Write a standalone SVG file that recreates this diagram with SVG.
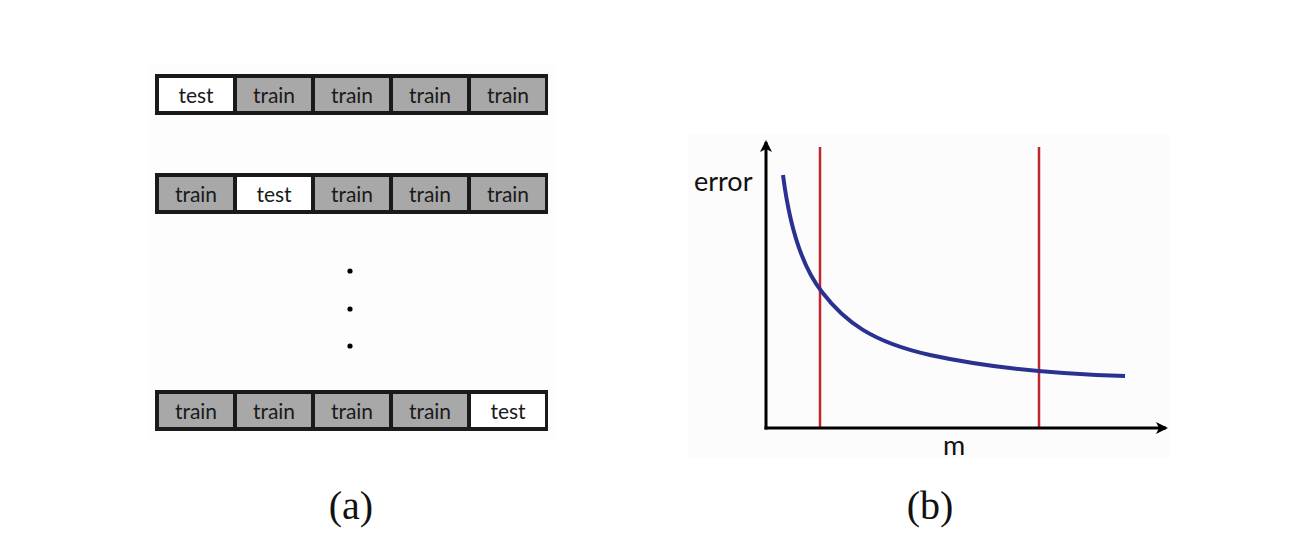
<svg xmlns="http://www.w3.org/2000/svg" width="1299" height="554" viewBox="0 0 1299 554">
<defs>
<style>
.frame{fill:#1a1a1a}
.tr{fill:#a8a8a8}
.te{fill:#ffffff}
.ct{font-family:Lato,"Open Sans",sans-serif;font-size:21px;fill:#1a1a1a;text-anchor:middle}
.ax{stroke:#000;stroke-width:3;fill:none}
.red{stroke:#be272d;stroke-width:2.5}
.lbl{font-family:"Liberation Serif",serif;font-size:40px;fill:#111;text-anchor:middle}
.gl{font-family:Lato,"Open Sans",sans-serif;font-size:27px;fill:#111}
</style>
<marker id="ah" markerWidth="12" markerHeight="12" viewBox="0 0 12 12" refX="10" refY="6" orient="auto" markerUnits="userSpaceOnUse">
<path d="M0,0 L12,6 L0,12 L3,6 Z" fill="#000"/>
</marker>
</defs>
<rect width="1299" height="554" fill="#fff"/>
<rect x="148" y="64" width="408" height="376" fill="#fdfdfd"/>
<rect x="688" y="134" width="482" height="324" fill="#fcfcfc"/>
<g id="row1">
<rect class="frame" x="155" y="74" width="393" height="41"/>
<rect class="te" x="159" y="78" width="74" height="33"/>
<rect class="tr" x="237" y="78" width="74" height="33"/>
<rect class="tr" x="315" y="78" width="74" height="33"/>
<rect class="tr" x="393" y="78" width="74" height="33"/>
<rect class="tr" x="471" y="78" width="74" height="33"/>
<text class="ct" x="196" y="103">test</text>
<text class="ct" x="274" y="103">train</text>
<text class="ct" x="352" y="103">train</text>
<text class="ct" x="430" y="103">train</text>
<text class="ct" x="508" y="103">train</text>
</g>
<g id="row2">
<rect class="frame" x="155" y="173" width="393" height="41"/>
<rect class="tr" x="159" y="177" width="74" height="33"/>
<rect class="te" x="237" y="177" width="74" height="33"/>
<rect class="tr" x="315" y="177" width="74" height="33"/>
<rect class="tr" x="393" y="177" width="74" height="33"/>
<rect class="tr" x="471" y="177" width="74" height="33"/>
<text class="ct" x="196" y="202">train</text>
<text class="ct" x="274" y="202">test</text>
<text class="ct" x="352" y="202">train</text>
<text class="ct" x="430" y="202">train</text>
<text class="ct" x="508" y="202">train</text>
</g>
<g id="dots" fill="#000">
<circle cx="350" cy="271" r="2.6"/>
<circle cx="350" cy="309" r="2.6"/>
<circle cx="350" cy="346" r="2.6"/>
</g>
<g id="row3">
<rect class="frame" x="155" y="390" width="393" height="41"/>
<rect class="tr" x="159" y="394" width="74" height="33"/>
<rect class="tr" x="237" y="394" width="74" height="33"/>
<rect class="tr" x="315" y="394" width="74" height="33"/>
<rect class="tr" x="393" y="394" width="74" height="33"/>
<rect class="te" x="471" y="394" width="74" height="33"/>
<text class="ct" x="196" y="419">train</text>
<text class="ct" x="274" y="419">train</text>
<text class="ct" x="352" y="419">train</text>
<text class="ct" x="430" y="419">train</text>
<text class="ct" x="508" y="419">test</text>
</g>
<g id="plot">
<line class="red" x1="820" y1="147" x2="820" y2="429"/>
<line class="red" x1="1039" y1="147" x2="1039" y2="429"/>
<path d="M783,175 C790,230 803,268 822,292 C845,322 872,342 930,355 C990,368 1050,374 1125,376" fill="none" stroke="#2b3190" stroke-width="4"/>
</g>
<g id="connectors">
<line class="ax" x1="766" y1="429.5" x2="766" y2="142" marker-end="url(#ah)"/>
<line class="ax" x1="764.5" y1="428" x2="1166" y2="428" marker-end="url(#ah)"/>
</g>
<text class="gl" x="694" y="191">error</text>
<text class="gl" x="954" y="455" text-anchor="middle">m</text>
<text class="lbl" x="351" y="519">(a)</text>
<text class="lbl" x="930" y="519">(b)</text>
</svg>
